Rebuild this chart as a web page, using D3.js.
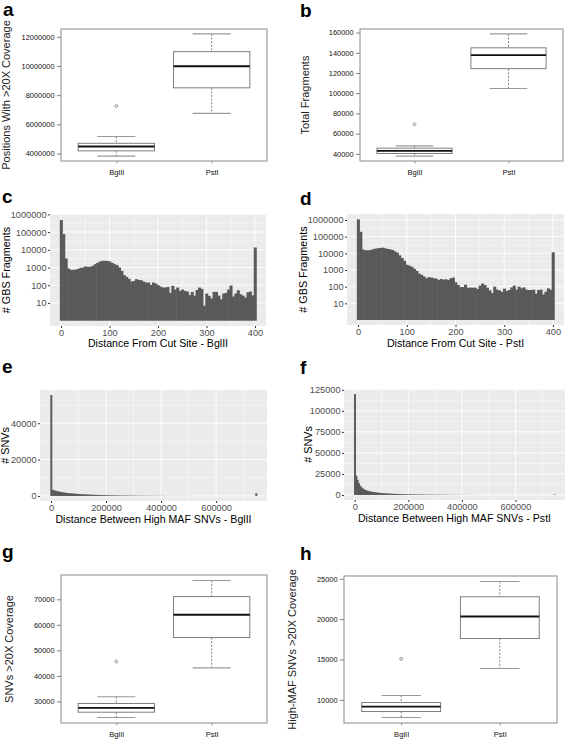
<!DOCTYPE html>
<html><head><meta charset="utf-8">
<script src="https://cdn.jsdelivr.net/npm/d3@7"></script>
<style>body{margin:0;background:#fff;} svg{display:block;}</style>
</head><body><script>
// ---------------- DATA ----------------
const groups = ["BglII", "PstI"];
// boxplot stats: [lower whisker, Q1, median, Q3, upper whisker]
const posCoverageStats = [[3820000, 4180000, 4480000, 4700000, 5160000], [6750000, 8500000, 9980000, 10980000, 12200000]];
const posCoverageOutliers = [[7250000], []];
const posCoverageTicks = [4000000, 6000000, 8000000, 10000000, 12000000];

const totalFragStats = [[37700, 40300, 42950, 45570, 47870], [104590, 124260, 137700, 144900, 158700]];
const totalFragOutliers = [[69180], []];
const totalFragTicks = [40000, 60000, 80000, 100000, 120000, 140000, 160000];

const snvCovStats = [[23700, 25790, 27500, 29210, 31840], [43160, 55000, 63950, 71050, 77370]];
const snvCovOutliers = [[45660], []];
const snvCovTicks = [30000, 40000, 50000, 60000, 70000];

const hiMafStats = [[7810, 8550, 9170, 9670, 10540], [13880, 17600, 20330, 22770, 24670]];
const hiMafOutliers = [[15080], []];
const hiMafTicks = [10000, 15000, 20000, 25000];

// histogram of distance from cut site (binwidth 5, centres 0..400)
const cutSiteBins = d3.range(0, 405, 5);
const cutSiteBglII = [478000, 77000, 3230, 877, 738, 738, 771, 841, 958, 1000,
  1140, 1091, 1091, 1242, 1545, 1836, 2186, 2384, 2384, 2384,
  2186, 1836, 1545, 1356, 1000, 648, 368, 296, 228, 161,
  176, 219, 200, 192, 161, 142, 142, 104, 142, 124,
  100, 84, 74, 74, 80, 37, 92, 57, 74, 48,
  57, 48, 44, 28, 42, 26, 54, 74, 62, 7,
  34, 25, 18, 42, 42, 26, 16, 34, 37, 57,
  96, 23, 34, 52, 31, 26, 20, 40, 44, 27, 13500];
const cutSitePstI = [1100000, 196000, 16700, 15200, 15200, 15900, 17400, 19200, 20100, 21000,
  22000, 20100, 18300, 17400, 15900, 13200, 11000, 7570, 5210, 3590,
  2060, 1790, 1560, 1180, 890, 613, 509, 404, 320, 368,
  351, 320, 305, 253, 291, 266, 278, 253, 320, 351,
  183, 126, 95, 95, 132, 87, 87, 87, 87, 72,
  115, 152, 126, 87, 60, 41, 100, 66, 60, 48,
  76, 55, 63, 91, 115, 66, 100, 79, 91, 66,
  63, 63, 66, 38, 63, 66, 34, 50, 79, 66, 11500];
const logTicks = [10, 100, 1000, 10000, 100000, 1000000];
const cutSiteTicks = [0, 100, 200, 300, 400];

// histogram of distance between high-MAF SNVs (binwidth 5000, centres 0..745000)
const snvDistBins = d3.range(0, 750000, 5000);
const snvDistBglII = [55500,
  3400, 3100, 2900, 2700, 2500, 2350, 2200, 2050, 1900, 1800,
  1700, 1600, 1520, 1450, 1380, 1300, 1240, 1180, 1120, 1060,
  1000, 960, 920, 880, 840, 800, 760, 720, 690, 660,
  630, 600, 570, 540, 510, 480, 450, 420, 400, 380,
  360, 340, 320, 300, 290, 270, 260, 250, 240, 230,
  220, 210, 200, 190, 180, 170, 160, 150, 145, 140,
  130, 125, 120, 115, 110, 105, 100, 95, 90, 85,
  80, 78, 75, 72, 70, 68, 65, 62, 60, 58,
  55, 52, 0, 48, 46, 44, 0, 40, 38, 36,
  34, 0, 30, 28, 26, 0, 24, 22, 20, 0,
  18, 17, 0, 15, 14, 0, 0, 11, 10, 0,
  9, 0, 8, 0, 6, 0, 5, 0, 4, 0,
  0, 3, 0, 0, 3, 0, 0, 2, 0, 0,
  3, 0, 0, 2, 0, 0, 3, 0, 0, 2,
  0, 0, 2, 0, 0, 3, 0, 0, 1500];
const snvDistPstI = [120000,
  23000, 18000, 14000, 11000, 9000, 7600, 6600, 5800, 5200, 4700,
  4300, 3950, 3650, 3400, 3150, 2950, 2750, 2550, 2400, 2250,
  2100, 1980, 1860, 1750, 1650, 1560, 1470, 1390, 1310, 1240,
  1170, 1100, 1040, 980, 930, 880, 830, 790, 750, 710,
  670, 640, 610, 580, 550, 520, 500, 480, 460, 440,
  420, 400, 380, 360, 345, 330, 315, 300, 290, 280,
  270, 260, 250, 240, 230, 220, 210, 200, 190, 180,
  170, 160, 150, 140, 130, 120, 110, 100, 95, 90,
  85, 80, 75, 70, 65, 60, 55, 50, 45, 40,
  0, 35, 0, 0, 30, 0, 0, 0, 0, 0,
  0, 0, 0, 0, 0, 0, 0, 0, 0, 0,
  0, 0, 0, 0, 0, 0, 0, 0, 0, 0,
  0, 0, 0, 0, 0, 0, 0, 0, 0, 0,
  0, 0, 0, 0, 0, 0, 0, 0, 0, 0,
  0, 0, 0, 0, 0, 0, 0, 0, 700];
const snvDistTicks = [0, 200000, 400000, 600000];
const snvDistBglIITicks = [0, 20000, 40000];
const snvDistPstITicks = [0, 25000, 50000, 75000, 100000, 125000];

// ---------------- DRAWING ----------------
const FONT = '"Liberation Sans", Arial, Helvetica, sans-serif';
const svg = d3.select('body').append('svg').attr('width', 567).attr('height', 739)
  .style('font-family', FONT);

function letter(t, x, y) {
  svg.append('text').attr('x', x).attr('y', y).text(t)
    .attr('font-size', 19).attr('font-weight', 'bold').attr('fill', '#000');
}
function yTitle(t, x, y, size, fill) {
  svg.append('text').attr('transform', `translate(${x},${y}) rotate(-90)`)
    .attr('text-anchor', 'middle').attr('font-size', size).attr('fill', fill).text(t);
}

function boxPanel(o) {
  const g = svg.append('g');
  const vals = o.stats.flat().concat(o.outliers.flat());
  const lo = d3.min(vals), hi = d3.max(vals), pad = (hi - lo) * 0.04;
  const y = d3.scaleLinear().domain([lo - pad, hi + pad]).range([o.y1, o.y0]);
  const x = d3.scaleLinear().domain([0.42, 2.58]).range([o.x0, o.x1]);

  const ya = g.append('g').attr('transform', `translate(${o.x0},0)`)
    .call(d3.axisLeft(y).tickValues(o.ticks).tickFormat(d3.format('d')).tickSize(4).tickPadding(2.5));
  ya.select('.domain').remove();
  ya.selectAll('line').attr('stroke', '#808080');
  ya.selectAll('text').attr('font-size', 7.4).attr('fill', '#111').attr('font-family', FONT);

  const xa = g.append('g').attr('transform', `translate(0,${o.y1})`)
    .call(d3.axisBottom(x).tickValues([1, 2]).tickFormat((d, i) => groups[i]).tickSize(2.5).tickPadding(6));
  xa.select('.domain').remove();
  xa.selectAll('line').attr('stroke', '#999');
  xa.selectAll('text').attr('font-size', 7.6).attr('fill', '#111').attr('font-family', FONT);

  o.stats.forEach((s, i) => {
    const c = x(i + 1), hw = x(1.4) - x(1), cw = x(1.2) - x(1);
    g.append('line').attr('x1', c).attr('x2', c).attr('y1', y(s[4])).attr('y2', y(s[3]))
      .attr('stroke', '#808080').attr('stroke-dasharray', '2,1.6');
    g.append('line').attr('x1', c).attr('x2', c).attr('y1', y(s[1])).attr('y2', y(s[0]))
      .attr('stroke', '#808080').attr('stroke-dasharray', '2,1.6');
    [s[0], s[4]].forEach(v => g.append('line').attr('x1', c - cw).attr('x2', c + cw)
      .attr('y1', y(v)).attr('y2', y(v)).attr('stroke', '#9a9a9a').attr('stroke-width', 1.1));
    g.append('rect').attr('x', c - hw).attr('width', 2 * hw).attr('y', y(s[3])).attr('height', y(s[1]) - y(s[3]))
      .attr('fill', '#fff').attr('stroke', '#707070').attr('stroke-width', 0.9);
    g.append('line').attr('x1', c - hw).attr('x2', c + hw).attr('y1', y(s[2])).attr('y2', y(s[2]))
      .attr('stroke', '#111').attr('stroke-width', 1.8);
    o.outliers[i].forEach(v => g.append('circle').attr('cx', c).attr('cy', y(v)).attr('r', 1.4)
      .attr('fill', 'none').attr('stroke', '#777').attr('stroke-width', 0.8));
  });
  g.append('rect').attr('x', o.x0).attr('y', o.y0).attr('width', o.x1 - o.x0).attr('height', o.y1 - o.y0)
    .attr('fill', 'none').attr('stroke', '#8a8a8a').attr('stroke-width', 1);
  yTitle(o.title, o.titleX, (o.y0 + o.y1) / 2, 11, '#222');
}

function histPanel(o) {
  const g = svg.append('g');
  const x = d3.scaleLinear().domain(o.xDomain).range([o.x0, o.x1]);
  const y = (o.log ? d3.scaleLog() : d3.scaleLinear()).domain(o.yDomain).range([o.y1, o.y0]);
  g.append('rect').attr('x', o.x0).attr('y', o.y0).attr('width', o.x1 - o.x0).attr('height', o.y1 - o.y0).attr('fill', '#EBEBEB');
  const hl = (v, w) => g.append('line').attr('x1', o.x0).attr('x2', o.x1).attr('y1', y(v)).attr('y2', y(v)).attr('stroke', '#fff').attr('stroke-width', w);
  const vl = (v, w) => g.append('line').attr('y1', o.y0).attr('y2', o.y1).attr('x1', x(v)).attr('x2', x(v)).attr('stroke', '#fff').attr('stroke-width', w);
  o.yMinor.forEach(v => hl(v, 0.45));
  o.xMinor.forEach(v => vl(v, 0.45));
  o.yTicks.forEach(v => hl(v, 0.9));
  o.xTicks.forEach(v => vl(v, 0.9));
  const base = o.log ? 1 : 0;
  const bw = x(o.bw) - x(0);
  g.selectAll('rect.bar').data(o.counts.map((c, i) => ({ c, b: o.bins[i] })).filter(d => d.c > 0))
    .join('rect').attr('class', 'bar')
    .attr('x', d => x(d.b - o.bw / 2)).attr('width', bw + (bw < 1 ? 0.3 : 0.6))
    .attr('y', d => y(d.c)).attr('height', d => y(base) - y(d.c))
    .attr('fill', '#595959');

  const ya = g.append('g').attr('transform', `translate(${o.x0},0)`)
    .call(d3.axisLeft(y).tickValues(o.yTicks).tickFormat(d3.format('d')).tickSize(2).tickPadding(1.5));
  ya.select('.domain').remove();
  ya.selectAll('line').attr('stroke', '#333');
  ya.selectAll('text').attr('font-size', 9.2).attr('fill', '#4D4D4D').attr('font-family', FONT);
  const xa = g.append('g').attr('transform', `translate(0,${o.y1})`)
    .call(d3.axisBottom(x).tickValues(o.xTicks).tickFormat(d3.format('d')).tickSize(2).tickPadding(1.6));
  xa.select('.domain').remove();
  xa.selectAll('line').attr('stroke', '#333');
  xa.selectAll('text').attr('font-size', 9.2).attr('fill', '#4D4D4D').attr('font-family', FONT);

  svg.append('text').attr('x', (o.x0 + o.x1) / 2).attr('y', o.y1 + o.xTitleDy).attr('text-anchor', 'middle')
    .attr('font-size', 10.6).attr('fill', '#000').text(o.xTitle);
  yTitle(o.yTitle, o.yTitleX, (o.y0 + o.y1) / 2, 10.8, '#000');
}

const logMinor = [10 ** 0.5, 10 ** 1.5, 10 ** 2.5, 10 ** 3.5, 10 ** 4.5, 10 ** 5.5];

// a
boxPanel({ x0: 61, x1: 267, y0: 29, y1: 161, stats: posCoverageStats, outliers: posCoverageOutliers,
  ticks: posCoverageTicks, title: "Positions With >20X Coverage", titleX: 10 });
letter('a', 3, 16);
// b
boxPanel({ x0: 360, x1: 563, y0: 29, y1: 161, stats: totalFragStats, outliers: totalFragOutliers,
  ticks: totalFragTicks, title: "Total Fragments", titleX: 309 });
letter('b', 300, 17);
// c
histPanel({ x0: 50, x1: 266, y0: 214, y1: 326, log: true, xDomain: [-22.75, 422.75], yDomain: [10 ** -0.3, 10 ** 6.02],
  bins: cutSiteBins, counts: cutSiteBglII, bw: 5, xTicks: cutSiteTicks, xMinor: [50, 150, 250, 350],
  yTicks: logTicks, yMinor: logMinor, xTitle: "Distance From Cut Site - BglII", xTitleDy: 21,
  yTitle: "# GBS Fragments", yTitleX: 10 });
letter('c', 2, 203);
// d
histPanel({ x0: 347, x1: 564, y0: 214, y1: 325, log: true, xDomain: [-22.75, 422.75], yDomain: [10 ** -0.3, 10 ** 6.36],
  bins: cutSiteBins, counts: cutSitePstI, bw: 5, xTicks: cutSiteTicks, xMinor: [50, 150, 250, 350],
  yTicks: logTicks, yMinor: logMinor, xTitle: "Distance From Cut Site - PstI", xTitleDy: 22,
  yTitle: "# GBS Fragments", yTitleX: 307 });
letter('d', 300, 205);
// e
histPanel({ x0: 40, x1: 267, y0: 390, y1: 501, log: false, xDomain: [-40000, 785000], yDomain: [-2775, 58275],
  bins: snvDistBins, counts: snvDistBglII, bw: 5000, xTicks: snvDistTicks, xMinor: [100000, 300000, 500000, 700000],
  yTicks: snvDistBglIITicks, yMinor: [10000, 30000, 50000], xTitle: "Distance Between High MAF SNVs - BglII", xTitleDy: 22,
  yTitle: "# SNVs", yTitleX: 9 });
letter('e', 2, 373);
// f
histPanel({ x0: 344, x1: 565, y0: 389, y1: 500, log: false, xDomain: [-40000, 785000], yDomain: [-6000, 126000],
  bins: snvDistBins, counts: snvDistPstI, bw: 5000, xTicks: snvDistTicks, xMinor: [100000, 300000, 500000, 700000],
  yTicks: snvDistPstITicks, yMinor: [12500, 37500, 62500, 87500, 112500], xTitle: "Distance Between High MAF SNVs - PstI", xTitleDy: 22,
  yTitle: "# SNVs", yTitleX: 312 });
letter('f', 300, 374);
// g
boxPanel({ x0: 61, x1: 267, y0: 575, y1: 723, stats: snvCovStats, outliers: snvCovOutliers,
  ticks: snvCovTicks, title: "SNVs >20X Coverage", titleX: 13 });
letter('g', 2, 558);
// h
boxPanel({ x0: 344, x1: 557, y0: 576, y1: 723, stats: hiMafStats, outliers: hiMafOutliers,
  ticks: hiMafTicks, title: "High-MAF SNVs >20X Coverage", titleX: 296 });
letter('h', 300, 560);
</script></body></html>
